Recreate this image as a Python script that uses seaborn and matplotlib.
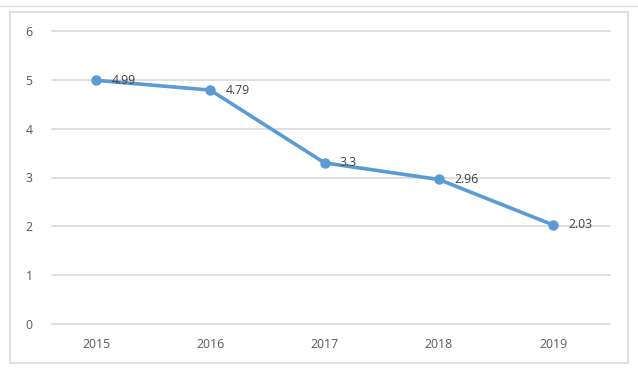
import matplotlib
matplotlib.use('Agg')
import matplotlib.pyplot as plt
import seaborn as sns
import pandas as pd
from matplotlib.patches import Rectangle
from matplotlib.lines import Line2D

years = ['2015', '2016', '2017', '2018', '2019']
values = [4.99, 4.79, 3.3, 2.96, 2.03]
labels = ['4.99', '4.79', '3.3', '2.96', '2.03']
yticks = [0, 1, 2, 3, 4, 5, 6]

sns.set_style('white')
plt.rcParams['font.family'] = ['Open Sans', 'DejaVu Sans']

W, H = 638, 369
fig = plt.figure(figsize=(W / 100, H / 100), dpi=100)
ax = fig.add_axes([52 / W, 1 - 324 / H, (610 - 52) / W, (324 - 31) / H])

df = pd.DataFrame({'pos': range(len(years)), 'value': values})
line_color = '#5B9BD5'
sns.lineplot(data=df, x='pos', y='value', ax=ax, color=line_color, linewidth=2.6,
             marker='o', markersize=7.5, markeredgewidth=0, zorder=3)

for i, (v, lab) in enumerate(zip(values, labels)):
    ax.annotate(lab, (i, v), xytext=(11, 0), textcoords='offset points',
                ha='left', va='center', fontsize=8.8, color='#404040', zorder=4)

ax.set_xlim(-44 / 114.25, 4 + 57 / 114.25)
ax.set_ylim(0, 6)
ax.set_yticks(yticks)
ax.set_xticks(range(len(years)))
ax.set_xticklabels(years)
ax.yaxis.grid(True, color='#D9D9D9', linewidth=1.2)
for gl in ax.get_ygridlines():
    gl.set_clip_on(False)
ax.set_axisbelow(True)
for s in ax.spines.values():
    s.set_visible(False)
ax.tick_params(axis='both', length=0, labelsize=8.8, colors='#595959')
ax.tick_params(axis='y', pad=14)
ax.tick_params(axis='x', pad=10)
ax.set_xlabel('')
ax.set_ylabel('')

# chart border and top rule
fig.patches.append(Rectangle((10 / W, 1 - 363 / H), (628 - 10) / W, (363 - 12) / H,
                             transform=fig.transFigure, fill=False,
                             edgecolor='#D9D9D9', linewidth=1.2))
fig.lines.append(Line2D([0, 1], [1 - 6 / H, 1 - 6 / H], transform=fig.transFigure,
                        color='#E0E0E0', linewidth=1))

fig.savefig('out.png', dpi=100)
